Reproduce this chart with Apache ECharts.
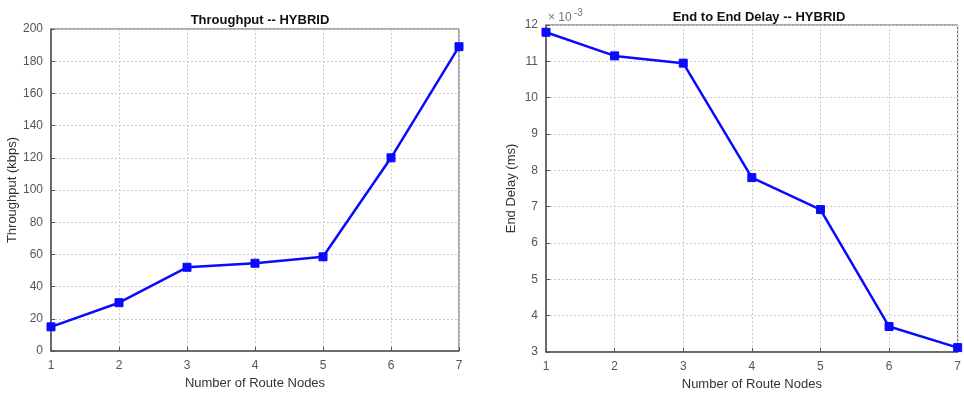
<!DOCTYPE html>
<html>
<head>
<meta charset="utf-8">
<script src="https://cdn.jsdelivr.net/npm/echarts@6/dist/echarts.min.js"></script>
<style>
  html, body { margin: 0; padding: 0; background: #fff; }
  #chart { width: 964px; height: 396px; }
</style>
</head>
<body>
<div id="chart"></div>
<script>
// route node counts shared by both plots
const nodes = [1, 2, 3, 4, 5, 6, 7];
// throughput in kbps
const throughput = [15, 30, 52, 54.5, 58.5, 120, 189];
// end-to-end delay in ms
const delay = [0.0118, 0.01115, 0.01095, 0.0078, 0.00692, 0.0037, 0.00312];

const FONT = 'Liberation Sans, Arial, sans-serif';
const BLUE = '#0a0aff';

const chart = echarts.init(document.getElementById('chart'));

function xAxisFor(gridIndex) {
  return {
    type: 'value', gridIndex: gridIndex, min: 1, max: 7, interval: 1,
    name: 'Number of Route Nodes', nameLocation: 'middle', nameGap: 26,
    nameTextStyle: { fontFamily: FONT, fontSize: 13, color: '#333' },
    axisLine: { show: true, lineStyle: { color: '#555', width: 1.5 } },
    axisTick: { show: true, inside: true, length: 4, lineStyle: { color: '#555' } },
    axisLabel: { fontFamily: FONT, fontSize: 12, color: '#555', margin: 9 },
    splitLine: { show: true, lineStyle: { color: '#ccc', type: [2, 2] } }
  };
}

function yAxisFor(gridIndex, opts) {
  return Object.assign({
    type: 'value', gridIndex: gridIndex,
    nameLocation: 'middle',
    nameTextStyle: { fontFamily: FONT, fontSize: 13, color: '#333' },
    axisLine: { show: true, lineStyle: { color: '#555', width: 1.5 } },
    axisTick: { show: true, inside: true, length: 4, lineStyle: { color: '#555' } },
    axisLabel: { fontFamily: FONT, fontSize: 12, color: '#555', margin: 8 },
    splitLine: { show: true, lineStyle: { color: '#ccc', type: [2, 2] } }
  }, opts);
}

const option = {
  backgroundColor: '#fff',
  animation: false,
  title: [
    { text: 'Throughput -- HYBRID', left: 255, top: 9, textAlign: 'center',
      textStyle: { fontFamily: FONT, fontSize: 13, fontWeight: 'bold', color: '#111' } },
    { text: 'End to End Delay -- HYBRID', left: 754, top: 6, textAlign: 'center',
      textStyle: { fontFamily: FONT, fontSize: 13, fontWeight: 'bold', color: '#111' } }
  ],
  // axis exponent label of the delay plot
  graphic: [
    { type: 'text', left: 548, top: 12,
      style: { text: '\u00d7 10', fontFamily: FONT, fontSize: 12, fill: '#777' } },
    { type: 'text', left: 574, top: 8,
      style: { text: '-3', fontFamily: FONT, fontSize: 10, fill: '#777' } }
  ],
  grid: [
    { left: 51, top: 29, width: 408, height: 322, show: true, borderColor: '#555', borderWidth: 1, backgroundColor: 'transparent' },
    { left: 546, top: 25, width: 416, height: 328, show: true, borderColor: '#555', borderWidth: 1, backgroundColor: 'transparent' }
  ],
  xAxis: [xAxisFor(0), xAxisFor(1)],
  yAxis: [
    yAxisFor(0, { min: 0, max: 200, interval: 20, name: 'Throughput (kbps)', nameGap: 31 }),
    yAxisFor(1, { min: 0.003, max: 0.012, interval: 0.001, name: 'End Delay (ms)', nameGap: 28,
      axisLabel: { fontFamily: FONT, fontSize: 12, color: '#555', margin: 8,
        formatter: function (v) { return String(Math.round(v * 1000)); } } })
  ],
  series: [
    { type: 'line', xAxisIndex: 0, yAxisIndex: 0,
      data: nodes.map((n, i) => [n, throughput[i]]),
      symbol: 'rect', symbolSize: 8,
      lineStyle: { color: BLUE, width: 2.5 },
      itemStyle: { color: BLUE, borderColor: BLUE } },
    { type: 'line', xAxisIndex: 1, yAxisIndex: 1,
      data: nodes.map((n, i) => [n, delay[i]]),
      symbol: 'rect', symbolSize: 8,
      lineStyle: { color: BLUE, width: 2.5 },
      itemStyle: { color: BLUE, borderColor: BLUE } }
  ]
};

chart.setOption(option);
</script>
</body>
</html>
